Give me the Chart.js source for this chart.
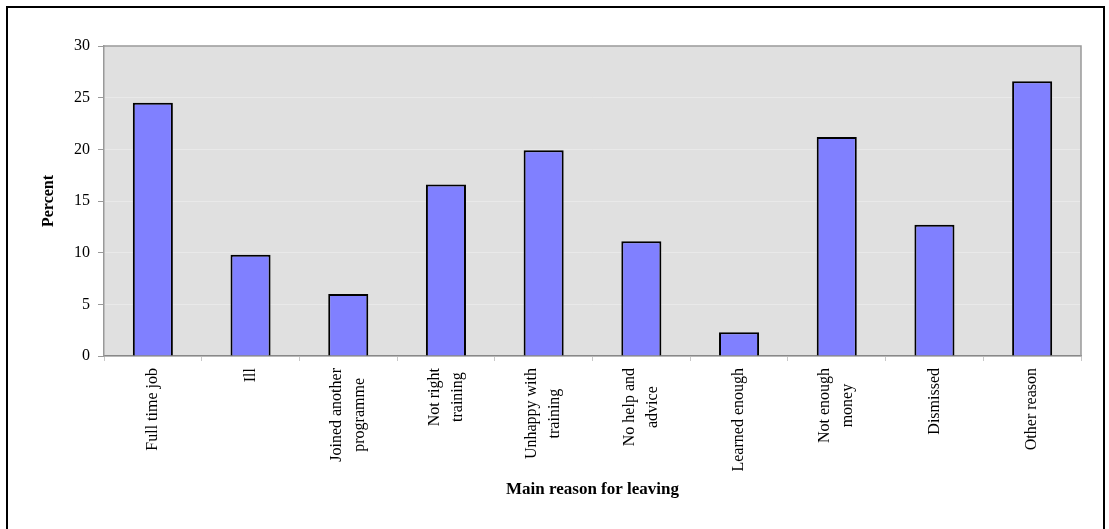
<!DOCTYPE html>
<html>
<head>
<meta charset="utf-8">
<script src="https://cdn.jsdelivr.net/npm/chart.js@4"></script>
<style>
  html, body { margin: 0; padding: 0; background: #ffffff; }
  #wrap { position: relative; width: 1109px; height: 529px; overflow: hidden; }
  #frame {
    position: absolute; left: 6px; top: 6px; width: 1095px; height: 600px;
    border: 2px solid #000000; border-bottom: none;
  }
  #chart { position: absolute; left: 0; top: 0; }
</style>
</head>
<body>
<div id="wrap">
  <div id="frame"></div>
  <canvas id="chart" width="1109" height="529"></canvas>
</div>
<script>
// Reasons given for leaving, one label (possibly wrapped) per bar
const categories = [
  ["Full time job"],
  ["Ill"],
  ["Joined another", "programme"],
  ["Not right", "training"],
  ["Unhappy with", "training"],
  ["No help and", "advice"],
  ["Learned enough"],
  ["Not enough", "money"],
  ["Dismissed"],
  ["Other reason"]
];
// Share of leavers (%) per reason
const percentValues = [24.5, 9.8, 6.0, 16.6, 19.9, 11.1, 2.3, 21.2, 12.7, 26.6];
// Value axis range and step
const yMin = 0;
const yMax = 30;
const yStep = 5;

const serif = '"Liberation Serif", "Times New Roman", serif';

// Grey plot background plus top/right frame of the plot area
const plotPanel = {
  id: 'plotPanel',
  beforeDraw(chart) {
    const { ctx, chartArea: a } = chart;
    ctx.save();
    ctx.fillStyle = '#e0e0e0';
    ctx.fillRect(a.left, a.top, a.right - a.left, a.bottom - a.top);
    ctx.restore();
  },
  afterDraw(chart) {
    const { ctx, chartArea: a } = chart;
    ctx.save();
    ctx.strokeStyle = '#999999';
    ctx.lineWidth = 1.5;
    ctx.beginPath();
    ctx.moveTo(a.left, a.top);
    ctx.lineTo(a.right, a.top);
    ctx.lineTo(a.right, a.bottom);
    ctx.stroke();
    ctx.restore();
  }
};

// Vertical category labels: wrapped lines centred on each other,
// block placed on the category position of the x scale
const categoryLabels = {
  id: 'categoryLabels',
  afterDraw(chart) {
    const { ctx, chartArea: a } = chart;
    const xScale = chart.scales.x;
    const lineGap = 23;
    ctx.save();
    ctx.font = '16px ' + serif;
    ctx.fillStyle = '#000000';
    ctx.textAlign = 'center';
    ctx.textBaseline = 'middle';
    categories.forEach((lines, i) => {
      const x = xScale.getPixelForValue(i);
      const maxLen = Math.max(...lines.map(l => ctx.measureText(l).width));
      const yMid = a.bottom + 12 + maxLen / 2;
      lines.forEach((line, j) => {
        const lx = x + (j - (lines.length - 1) / 2) * lineGap;
        ctx.save();
        ctx.translate(lx, yMid);
        ctx.rotate(-Math.PI / 2);
        ctx.fillText(line, 0, 0);
        ctx.restore();
      });
    });
    ctx.restore();
  }
};

new Chart(document.getElementById('chart'), {
  type: 'bar',
  data: {
    labels: categories.map(l => l.join(' ')),
    datasets: [{
      data: percentValues,
      backgroundColor: '#8080ff',
      borderColor: '#000000',
      borderWidth: 2,
      barPercentage: 0.41,
      categoryPercentage: 1.0
    }]
  },
  options: {
    responsive: false,
    devicePixelRatio: 1,
    animation: false,
    layout: { padding: { top: 46, right: 28, left: 0, bottom: 0 } },
    plugins: {
      legend: { display: false },
      tooltip: { enabled: false }
    },
    scales: {
      x: {
        afterFit(scale) { scale.height = 173; },
        grid: {
          display: true,
          offset: true,
          drawOnChartArea: false,
          drawTicks: true,
          tickLength: 5,
          color: '#c8c8c8',
          tickColor: '#c8c8c8'
        },
        border: { display: true, color: '#888888', width: 1.5 },
        ticks: { display: false },
        title: {
          display: true,
          text: 'Main reason for leaving',
          color: '#000000',
          font: { family: serif, size: 17, weight: 'bold' },
          padding: { top: 0, bottom: 29 }
        }
      },
      y: {
        min: yMin,
        max: yMax,
        afterFit(scale) { scale.width = 104; },
        grid: {
          color: '#e9e9e9',
          tickColor: '#999999',
          drawTicks: true,
          tickLength: 6,
          lineWidth: 1
        },
        border: { display: true, color: '#999999', width: 1.5 },
        ticks: {
          stepSize: yStep,
          padding: 8,
          color: '#000000',
          font: { family: serif, size: 16 }
        },
        title: {
          display: true,
          text: 'Percent',
          color: '#000000',
          font: { family: serif, size: 16, weight: 'bold' },
          padding: { top: 39, bottom: 0 }
        }
      }
    }
  },
  plugins: [plotPanel, categoryLabels]
});
</script>
</body>
</html>
